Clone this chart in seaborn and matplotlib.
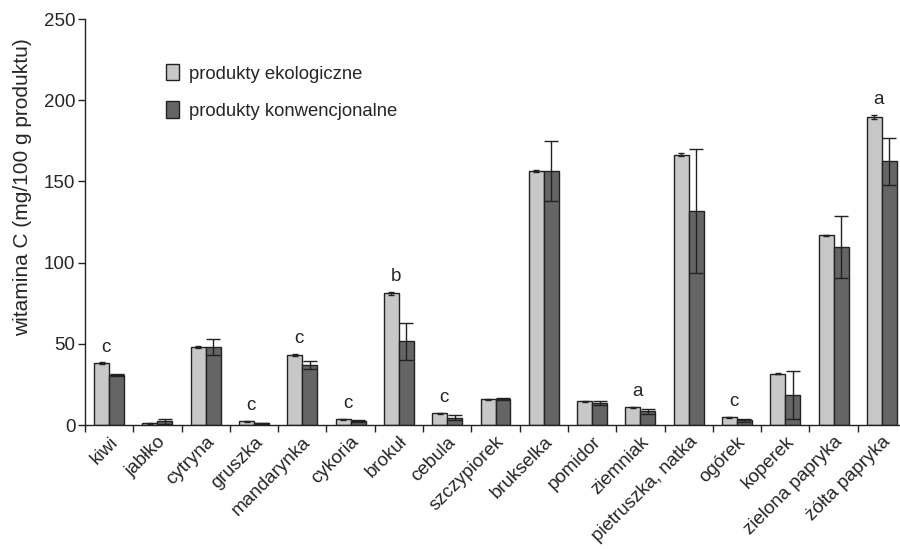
import numpy as np
import pandas as pd
import matplotlib
matplotlib.use('Agg')
import matplotlib.pyplot as plt
from matplotlib.ticker import FixedLocator
import seaborn as sns

# data
products = ['kiwi', 'jabłko', 'cytryna', 'gruszka', 'mandarynka', 'cykoria', 'brokuł',
            'cebula', 'szczypiorek', 'brukselka', 'pomidor', 'ziemniak',
            'pietruszka, natka', 'ogórek', 'koperek', 'zielona papryka', 'żółta papryka']
eko = [38, 1.0, 48, 2.4, 43, 3.6, 81, 7.3, 15.9, 156.5, 14.7, 11, 166.5, 4.8, 31.7, 116.8, 189.5]
eko_err = [0.5, 0.3, 0.5, 0.3, 0.5, 0.3, 0.7, 0.3, 0.3, 0.8, 0.3, 0.3, 0.8, 0.3, 0.5, 0.3, 1.2]
konw = [30.5, 2.2, 48, 1.1, 36.8, 2.2, 51.5, 4.4, 15.8, 156.5, 13.4, 8.5, 131.8, 2.8, 18.5, 109.5, 162.5]
konw_err = [0.6, 1.3, 5, 0.3, 2.5, 0.6, 11.5, 1.5, 0.6, 18.5, 1.2, 1.5, 38, 1.0, 15, 19, 14.5]
letters = ['c', '', '', 'c', 'c', 'c', 'b', 'c', '', '', '', 'a', '', 'c', '', '', 'a']
groups = ['produkty ekologiczne', 'produkty konwencjonalne']

df = pd.DataFrame({
    'produkt': products * 2,
    'grupa': [groups[0]] * len(products) + [groups[1]] * len(products),
    'wit_c': eko + konw,
})

sns.set_style('ticks')
plt.rcParams['font.family'] = ['Liberation Sans', 'DejaVu Sans']

fig = plt.figure(figsize=(9, 5.49), dpi=100)
ax = fig.add_axes([85 / 900, 124 / 549, 821 / 900, 406 / 549])

sns.barplot(data=df, x='produkt', y='wit_c', hue='grupa', order=products, hue_order=groups,
            palette=['#c8c8c8', '#656565'], width=0.62, gap=0, errorbar=None,
            edgecolor='#222222', linewidth=1, ax=ax)

# error bars on top of the seaborn bars
for cont, errs, cap in zip(ax.containers, [eko_err, konw_err], [2.5, 5]):
    xs = [b.get_x() + b.get_width() / 2 for b in cont]
    ys = [b.get_height() for b in cont]
    ax.errorbar(xs, ys, yerr=errs, fmt='none', ecolor='#222222', elinewidth=1,
                capsize=cap, capthick=1)

# significance letters
for i, let in enumerate(letters):
    if let:
        top = max(eko[i] + eko_err[i], konw[i] + konw_err[i])
        ax.text(i - 0.06, top + 9.5, let, ha='center', va='center', fontsize=13.5)

ax.set_xlim(-0.5, len(products) - 0.5)
ax.set_ylim(0, 250)
ax.set_yticks([0, 50, 100, 150, 200, 250])
ax.set_ylabel('witamina C (mg/100 g produktu)', fontsize=15)
ax.yaxis.set_label_coords(-0.065, 0.585)
ax.set_xlabel('')
ax.tick_params(axis='y', labelsize=13.5, length=5, width=1, direction='out', color='#222222', pad=2)
ax.tick_params(axis='x', which='major', length=0, labelsize=13.5, pad=6)
ax.xaxis.set_minor_locator(FixedLocator(np.arange(-0.5, len(products), 1)))
ax.tick_params(axis='x', which='minor', length=5, width=1, direction='out', color='#222222')
for lab in ax.get_xticklabels():
    lab.set_rotation(45)
    lab.set_ha('right')
    lab.set_rotation_mode('anchor')
sns.despine(ax=ax)
for s in ['left', 'bottom']:
    ax.spines[s].set_color('#222222')
    ax.spines[s].set_linewidth(1)

ax.legend(loc='upper left', bbox_to_anchor=(0.088, 0.912), frameon=False, fontsize=13.3,
          handlelength=0.7, handleheight=1.0, handletextpad=0.5, labelspacing=1.0,
          borderpad=0)

fig.savefig('out.png', dpi=100)
